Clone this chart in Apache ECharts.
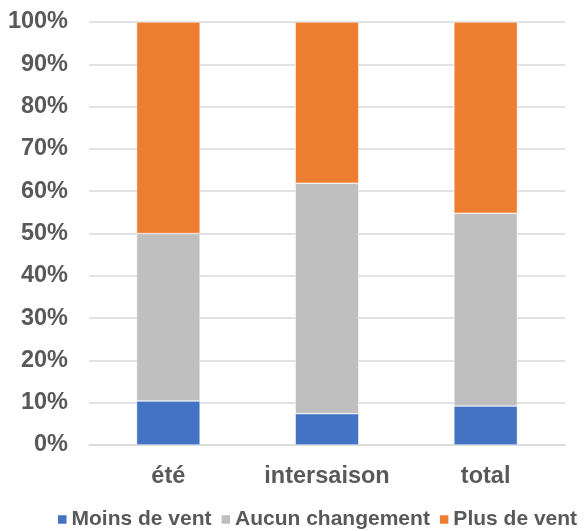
<!DOCTYPE html>
<html><head><meta charset="utf-8">
<script src="https://cdn.jsdelivr.net/npm/echarts@6/dist/echarts.min.js"></script>
<style>html,body{margin:0;padding:0;background:#fff}#c{width:584px;height:531px}</style>
</head><body><div id="c"></div>
<script>
const categories = ['été', 'intersaison', 'total'];
const moinsDeVent = [10.4, 7.4, 9.2];
const aucunChangement = [39.6, 54.5, 45.6];
const plusDeVent = [50.0, 38.1, 45.2];
const seriesNames = ['Moins de vent', 'Aucun changement', 'Plus de vent'];
const colors = ['#4472C4', '#BFBFBF', '#ED7D31'];

const font = 'Liberation Sans, Arial, sans-serif';
const chart = echarts.init(document.getElementById('c'));
const mk = (name, data, color) => ({
  name, type: 'bar', stack: 's', data, barWidth: '40%',
  itemStyle: { color, borderColor: '#fff', borderWidth: 0.5 },
  emphasis: { disabled: true }
});
chart.setOption({
  animation: false,
  color: colors,
  grid: { left: 89, right: 19, top: 22, bottom: 86 },
  xAxis: {
    type: 'category', data: categories,
    axisLine: { show: true, lineStyle: { color: '#D9D9D9', width: 1.5 } },
    axisTick: { show: false },
    axisLabel: { interval: 0, color: '#595959', fontSize: 23.5, fontWeight: 'bold', fontFamily: font, margin: 20 }
  },
  yAxis: {
    type: 'value', min: 0, max: 100, interval: 10,
    axisLine: { show: false }, axisTick: { show: false },
    splitLine: { lineStyle: { color: '#D9D9D9', width: 1.5 } },
    axisLabel: { color: '#595959', fontSize: 23.5, fontWeight: 'bold', fontFamily: font, margin: 21, formatter: '{value}%' }
  },
  legend: {
    top: 504, left: 51, width: 600, itemWidth: 10.5, itemHeight: 10.5, itemGap: 8,
    icon: 'rect',
    textStyle: { color: '#595959', fontSize: 21, fontWeight: 'bold', fontFamily: font, padding: [0, 0, 0, -1] },
    data: seriesNames
  },
  series: [
    mk(seriesNames[0], moinsDeVent, colors[0]),
    mk(seriesNames[1], aucunChangement, colors[1]),
    mk(seriesNames[2], plusDeVent, colors[2])
  ]
});
</script></body></html>
